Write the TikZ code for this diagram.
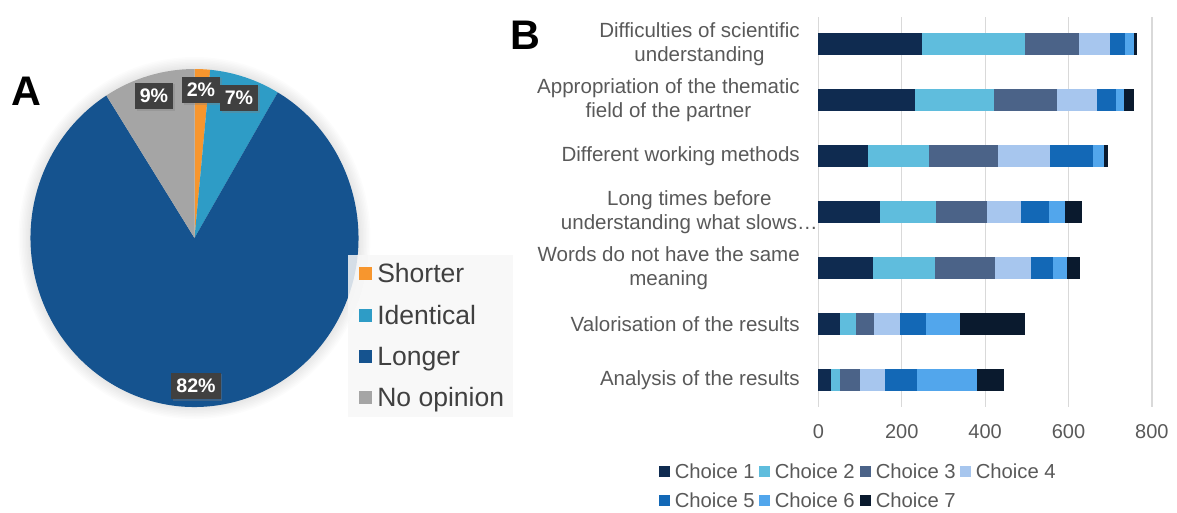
\documentclass[tikz,border=0pt]{standalone}
\usepackage{fontspec}
\setmainfont{Liberation Sans}
\usetikzlibrary{shadows}

\definecolor{cShorter}{HTML}{F7962E}
\definecolor{cIdentical}{HTML}{2E9CC6}
\definecolor{cLonger}{HTML}{15538F}
\definecolor{cNoOpinion}{HTML}{A5A5A5}
\definecolor{ch1}{HTML}{0F2B50}
\definecolor{ch2}{HTML}{5FBDDD}
\definecolor{ch3}{HTML}{4B6388}
\definecolor{ch4}{HTML}{A7C6EE}
\definecolor{ch5}{HTML}{1368B6}
\definecolor{ch6}{HTML}{52A6EC}
\definecolor{ch7}{HTML}{0A1A2E}
\definecolor{txtgray}{HTML}{595959}
\definecolor{leggray}{HTML}{404040}
\definecolor{gridgray}{HTML}{D9D9D9}

\begin{document}
\begin{tikzpicture}
[x=0.75pt,y=-0.75pt,
 every node/.style={inner sep=0pt},
 panel/.style={font=\bfseries\fontsize{31}{31}\selectfont},
 pct/.style={fill=leggray,text=white,inner xsep=3.7pt,minimum height=20pt,
   font=\bfseries\fontsize{14.7}{16}\selectfont,
   drop shadow={shadow xshift=1.2pt,shadow yshift=-1.2pt,opacity=0.35}},
 pieleg/.style={text=leggray,font=\fontsize{19.9}{22}\selectfont},
 barlab/.style={text=txtgray,align=center,font=\fontsize{15.4}{17.6}\selectfont},
 tick/.style={text=txtgray,font=\fontsize{15}{17}\selectfont},
 chleg/.style={text=txtgray,font=\fontsize{15.2}{17}\selectfont}]

  \useasboundingbox (0,0) rectangle (1177,512);

  \node[panel] (pA) at (26,91)   {A};
  \node[panel] (pB) at (525,35.5) {B};

  \coordinate (pc) at (194.5,238);
  \foreach \k in {1,...,8}
    \fill[black,opacity=0.012] (pc) ellipse [x radius=164+1.5*\k, y radius=169+1.5*\k];
  \foreach \a/\b/\c in {-90/-84.5/cShorter,-84.5/-59.5/cIdentical,-59.5/237.5/cLonger,237.5/270/cNoOpinion}
    \fill[\c] (pc) -- ++(\a:164 and 169) arc[start angle=\a,end angle=\b,x radius=164,y radius=169] -- cycle;

  \node[pct] (p9)  at (154,96)  {9\%};
  \node[pct] (p2)  at (201,90)  {2\%};
  \node[pct] (p7)  at (239,98)  {7\%};
  \node[pct] (p82) at (196,386) {82\%};

  \fill[gray!6,fill opacity=0.85] (348,255) rectangle (513,417);
  \foreach \y/\c/\t in {273/cShorter/Shorter,315/cIdentical/Identical,356/cLonger/Longer,397/cNoOpinion/No opinion}{
    \fill[\c] (359,\y-6.5) rectangle ++(13,13);
    \node[pieleg,anchor=base west] (l\c) at (377,\y+9.5) {\t};
  }

  \begin{scope}[shift={(818.3,0)},x=0.31275pt]
    \foreach \t in {0,200,...,800}{
      \draw[gridgray,line width=0.9pt] (\t,17) -- (\t,407);
      \node[tick] (t\t) at (\t,432) {\t};
    }
    \foreach \y/\vals in {44/{249,247,130,74,36,20,8},100/{233,188,151,97,45,18,24},
                          156/{118,147,166,125,103,25,10},212/{148,134,123,81,68,38,41},
                          268/{130,149,145,85,54,34,31},324/{53,37,44,61,64,81,156},
                          380/{30,23,47,60,77,144,64}}{
      \gdef\barpos{0}
      \foreach \w [count=\k] in \vals {
        \pgfmathsetmacro\barend{\barpos+\w}
        \fill[ch\k] (\barpos,\y-11) rectangle (\barend,\y+11);
        \xdef\barpos{\barend}
      }
    }
  \end{scope}

  \node[barlab,anchor=east] (r1) at (800,44)  {Difficulties of scientific\\understanding};
  \node[barlab,anchor=east] (r2) at (800,100) {Appropriation of the thematic\\field of the partner};
  \node[barlab,anchor=east] (r3) at (800,156) {Different working methods};
  \node[barlab,anchor=east] (r4) at (818,212) {Long times before\\understanding what slows…};
  \node[barlab,anchor=east] (r5) at (800,268) {Words do not have the same\\meaning};
  \node[barlab,anchor=east] (r6) at (800,324) {Valorisation of the results};
  \node[barlab,anchor=east] (r7) at (800,380) {Analysis of the results};

  \foreach \k/\x/\y in {1/659/471,2/759/471,3/860/471,4/960/471,5/659/500,6/759/500,7/860/500}{
    \fill[ch\k] (\x,\y-5.5) rectangle ++(11,11);
    \node[chleg,anchor=west] (c\k) at (\x+15.5,\y) {Choice \k};
  }

\end{tikzpicture}
\end{document}
